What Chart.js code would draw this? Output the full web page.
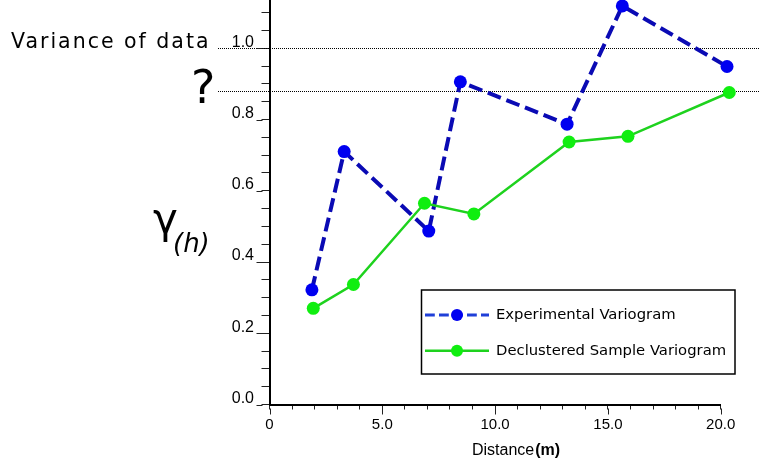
<!DOCTYPE html>
<html>
<head>
<meta charset="utf-8">
<script src="https://cdn.jsdelivr.net/npm/chart.js@4.4.1/dist/chart.umd.min.js"></script>
<style>
  html, body { margin: 0; padding: 0; background: #fff; overflow: hidden; }
  #wrap { position: absolute; left: 0; top: -40px; width: 760px; height: 505px; }
</style>
</head>
<body>
<div id="wrap"><canvas id="vario" width="760" height="505"></canvas></div>
<script>
// lag distance (m) and semivariance of each variogram
const expDist    = [1.88, 3.31, 7.06, 8.46, 13.19, 15.64, 20.28];
const expGamma   = [0.322, 0.710, 0.487, 0.906, 0.787, 1.119, 0.949];
const declDist   = [1.94, 3.72, 6.87, 9.06, 13.28, 15.89, 20.38];
const declGamma  = [0.270, 0.337, 0.565, 0.535, 0.737, 0.753, 0.876];
const seriesNames = ['Experimental Variogram', 'Declustered Sample Variogram'];

// sill levels: variance of the data, and the unknown one
const refLevels = [1.0, 0.879];

// tick labels
const xMajor = [0, 5, 10, 15, 20];
const yMajor = [0, 0.2, 0.4, 0.6, 0.8, 1.0, 1.2];

// the canvas is pulled up so the top of the y axis runs off the page
const SHIFT = 40;

const isMajorY = v => yMajor.some(m => Math.abs(m - v) < 1e-6);

const overlay = {
  id: 'overlay',
  beforeDatasetsDraw(chart) {
    const ctx = chart.ctx, y = chart.scales.y;
    ctx.save();
    ctx.strokeStyle = '#000';
    ctx.lineWidth = 1;
    ctx.setLineDash([1, 1]);
    refLevels.forEach(v => {
      const py = Math.round(y.getPixelForValue(v)) + 0.5;
      ctx.beginPath();
      ctx.moveTo(218, py);
      ctx.lineTo(chart.width, py);
      ctx.stroke();
    });
    ctx.restore();
  },
  afterDraw(chart) {
    const ctx = chart.ctx, x = chart.scales.x, y = chart.scales.y, area = chart.chartArea;
    ctx.save();

    // longer marks on the labelled ticks
    ctx.strokeStyle = '#222';
    ctx.lineWidth = 1;
    ctx.beginPath();
    yMajor.forEach(v => {
      const py = Math.round(y.getPixelForValue(v)) + 0.5;
      ctx.moveTo(area.left - 13, py);
      ctx.lineTo(area.left - 7, py);
    });
    xMajor.forEach(v => {
      const px = Math.round(x.getPixelForValue(v)) + 0.5;
      ctx.moveTo(px, area.bottom + 4);
      ctx.lineTo(px, area.bottom + 10);
    });
    ctx.stroke();

    // legend
    const lx = 421.5, ly = 290 + SHIFT, lw = 313.5, lh = 84;
    ctx.fillStyle = '#fff';
    ctx.fillRect(lx, ly, lw, lh);
    ctx.strokeStyle = '#000';
    ctx.lineWidth = 1.5;
    ctx.strokeRect(lx, ly, lw, lh);
    const rows = [315, 350.7];
    const sampleColors = ['#1f3fd8', null];
    chart.data.datasets.forEach((ds, i) => {
      const ry = rows[i] + SHIFT;
      ctx.strokeStyle = sampleColors[i] || ds.borderColor;
      ctx.lineWidth = ds.borderDash.length ? 3 : 2.5;
      ctx.setLineDash(ds.borderDash.map(d => d * 0.7));
      ctx.beginPath();
      ctx.moveTo(425, ry);
      ctx.lineTo(489, ry);
      ctx.stroke();
      ctx.setLineDash([]);
      ctx.fillStyle = ds.pointBackgroundColor;
      ctx.beginPath();
      ctx.arc(457, ry, 6, 0, Math.PI * 2);
      ctx.fill();
      ctx.fillStyle = '#000';
      ctx.font = '14.8px "DejaVu Sans"';
      ctx.textBaseline = 'middle';
      ctx.textAlign = 'left';
      ctx.fillText(ds.label, 496, ry);
    });

    // annotations on the left
    ctx.translate(0, SHIFT);
    ctx.fillStyle = '#000';
    ctx.textBaseline = 'alphabetic';
    ctx.textAlign = 'left';
    ctx.font = '20.5px "DejaVu Sans"';
    ctx.letterSpacing = '2px';
    ctx.fillText('Variance of data', 11, 48.3);
    ctx.letterSpacing = '0px';
    ctx.font = '46px "DejaVu Sans"';
    ctx.fillText('?', 191, 102.7);
    ctx.font = '42px "DejaVu Sans"';
    ctx.fillText('\u03B3', 153, 233);
    ctx.font = 'italic 26px "DejaVu Sans"';
    ctx.fillText('(h)', 173, 252);

    // x axis title
    ctx.font = '16px "Liberation Sans"';
    ctx.fillText('Distance', 472, 455);
    const w = ctx.measureText('Distance').width;
    ctx.font = 'bold 16px "Liberation Sans"';
    ctx.fillText('(m)', 472 + w + 1, 455);
    ctx.restore();
  }
};

new Chart(document.getElementById('vario'), {
  type: 'line',
  data: {
    datasets: [{
      label: seriesNames[0],
      data: expDist.map((d, i) => ({ x: d, y: expGamma[i] })),
      borderColor: '#0a0ab4',
      borderWidth: 4,
      borderDash: [14, 6],
      pointBackgroundColor: '#0000f0',
      pointBorderWidth: 0,
      pointRadius: 6.5,
      pointHoverRadius: 14,
      clip: false,
      order: 1
    }, {
      label: seriesNames[1],
      data: declDist.map((d, i) => ({ x: d, y: declGamma[i] })),
      borderColor: '#1ed21e',
      borderWidth: 2.5,
      borderDash: [],
      pointBackgroundColor: '#10ee10',
      pointBorderWidth: 0,
      pointRadius: 6.5,
      pointHoverRadius: 14,
      clip: false,
      order: 0
    }]
  },
  options: {
    responsive: false,
    animation: false,
    events: [],
    layout: { padding: { top: 12.5, right: 39.3, bottom: 0, left: 0 } },
    plugins: { legend: { display: false }, tooltip: { enabled: false } },
    scales: {
      x: {
        type: 'linear',
        min: 0,
        max: 20,
        border: { display: true, color: '#000', width: 2 },
        grid: { drawOnChartArea: false, drawTicks: true, tickLength: 5, tickColor: '#222' },
        ticks: {
          stepSize: 1,
          autoSkip: false,
          maxRotation: 0,
          padding: 6,
          color: '#000',
          font: { family: '"Liberation Sans"', size: 15 },
          callback: v => xMajor.includes(v) ? (v === 0 ? '0' : v.toFixed(1)) : ''
        },
        afterFit: s => { s.height = 60.5; }
      },
      y: {
        min: 0,
        max: 1.2,
        border: { display: true, color: '#000', width: 2 },
        grid: { drawOnChartArea: false, drawTicks: true, tickLength: 8, tickColor: '#222' },
        ticks: {
          stepSize: 0.05,
          maxTicksLimit: 100,
          autoSkip: false,
          padding: 7.5,
          labelOffset: -6,
          color: '#000',
          font: { family: '"Liberation Sans"', size: 16 },
          callback: v => isMajorY(v) ? v.toFixed(1) : ''
        },
        afterFit: s => { s.width = 269.5; }
      }
    }
  },
  plugins: [overlay]
});
</script>
</body>
</html>
